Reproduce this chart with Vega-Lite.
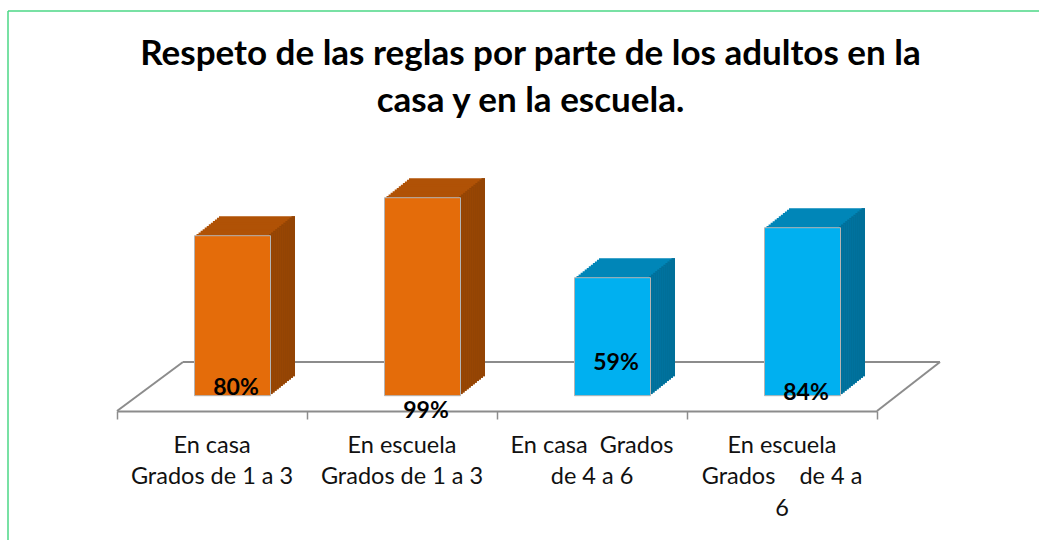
{
  "$schema": "https://vega.github.io/schema/vega-lite/v6.json",
  "width": 1031,
  "height": 529,
  "autosize": {"type": "none"},
  "padding": {"left": 8, "top": 11, "right": 0, "bottom": 0},
  "background": "white",
  "config": {
    "view": {"stroke": "#4CD886", "strokeWidth": 1.5, "strokeDash": [1031, 1560, 529, 0]}
  },
  "title": {
    "text": ["Respeto de las reglas por parte de los adultos en la", "casa y en la escuela."],
    "font": "Lato", "fontSize": 35, "fontWeight": "bold", "color": "#000000",
    "lineHeight": 47, "anchor": "middle", "frame": "group", "orient": "top",
    "baseline": "top", "offset": -108, "dx": 7
  },
  "data": {"values": [
    {"categoria": "En casa|Grados de 1 a 3", "grupo": "1 a 3", "valor": 0.80},
    {"categoria": "En escuela|Grados de 1 a 3", "grupo": "1 a 3", "valor": 0.99},
    {"categoria": "En casa\u00a0 Grados|de 4 a 6", "grupo": "4 a 6", "valor": 0.59},
    {"categoria": "En escuela|Grados\u00a0 \u00a0 de 4 a|6", "grupo": "4 a 6", "valor": 0.84}
  ]},
  "resolve": {"scale": {"x": "independent", "y": "independent"}, "axis": {"x": "independent", "y": "independent"}},
  "layer": [
    {"data": {"values": [{}]},
     "mark": {"type": "rule", "color": "#8c8c8c", "strokeWidth": 2, "xOffset": 66, "x2Offset": 63, "yOffset": -33.7},
     "encoding": {
       "x": {"datum": 0, "type": "quantitative", "scale": {"type": "linear", "domain": [0, 4], "range": [109, 869], "nice": false, "zero": false},
             "axis": {"orient": "bottom", "offset": -129, "values": [0, 1, 2, 3, 4], "labels": false, "grid": false, "title": null,
                      "ticks": true, "tickSize": 8, "tickColor": "#8c8c8c", "tickWidth": 1.5, "domain": true, "domainColor": "#8c8c8c", "domainWidth": 2}},
       "x2": {"datum": 4},
       "y": {"datum": 0, "type": "quantitative", "scale": {"domain": [0, 1], "range": [384.7, 184.7]}, "axis": null}
     }},
    {"data": {"values": [{}]},
     "mark": {"type": "rule", "color": "#8c8c8c", "strokeWidth": 2, "xOffset": 0, "x2Offset": 66, "yOffset": 15.3, "y2Offset": -33.7},
     "encoding": {
       "x": {"datum": 0, "type": "quantitative", "scale": {"type": "linear", "domain": [0, 4], "range": [109, 869], "nice": false, "zero": false}, "axis": null},
       "x2": {"datum": 0},
       "y": {"datum": 0, "type": "quantitative", "scale": {"domain": [0, 1], "range": [384.7, 184.7]}, "axis": null},
       "y2": {"datum": 0}
     }},
    {"data": {"values": [{}]},
     "mark": {"type": "rule", "color": "#8c8c8c", "strokeWidth": 2, "xOffset": 0, "x2Offset": 63, "yOffset": 15.3, "y2Offset": -33.7},
     "encoding": {
       "x": {"datum": 4, "type": "quantitative", "scale": {"type": "linear", "domain": [0, 4], "range": [109, 869], "nice": false, "zero": false}, "axis": null},
       "x2": {"datum": 4},
       "y": {"datum": 0, "type": "quantitative", "scale": {"domain": [0, 1], "range": [384.7, 184.7]}, "axis": null},
       "y2": {"datum": 0}
     }},

    {"mark": {"type": "bar", "width": 76, "xOffset": 45, "x2Offset": 45, "yOffset": -19.5, "y2Offset": -19.5},
     "encoding": {"x": {"field": "categoria", "type": "nominal", "sort": null, "scale": {"type": "band", "domain": ["En casa|Grados de 1 a 3", "En escuela|Grados de 1 a 3", "En casa\u00a0 Grados|de 4 a 6", "En escuela|Grados\u00a0 \u00a0 de 4 a|6"], "range": [109, 869], "paddingInner": 0, "paddingOuter": 0}, "axis": null},
                  "y": {"field": "valor", "type": "quantitative", "scale": {"domain": [0, 1], "range": [384.7, 184.7]}, "axis": null},
                  "color": {"condition": {"test": "datum.grupo === '1 a 3'", "value": "#B05206"}, "value": "#0086B8"}}},
    {"mark": {"type": "bar", "width": 3.5, "xOffset": 81.25, "x2Offset": 81.25, "yOffset": -19.5, "y2Offset": -19.5},
     "encoding": {"x": {"field": "categoria", "type": "nominal", "sort": null, "scale": {"type": "band", "domain": ["En casa|Grados de 1 a 3", "En escuela|Grados de 1 a 3", "En casa\u00a0 Grados|de 4 a 6", "En escuela|Grados\u00a0 \u00a0 de 4 a|6"], "range": [109, 869], "paddingInner": 0, "paddingOuter": 0}, "axis": null},
                  "y": {"field": "valor", "type": "quantitative", "scale": {"domain": [0, 1], "range": [384.7, 184.7]}, "axis": null},
                  "color": {"condition": {"test": "datum.grupo === '1 a 3'", "value": "#934404"}, "value": "#006F99"}}},

    {"mark": {"type": "bar", "width": 76, "xOffset": 42.96, "x2Offset": 42.96, "yOffset": -17.88, "y2Offset": -17.88},
     "encoding": {"x": {"field": "categoria", "type": "nominal", "sort": null, "scale": {"type": "band", "domain": ["En casa|Grados de 1 a 3", "En escuela|Grados de 1 a 3", "En casa\u00a0 Grados|de 4 a 6", "En escuela|Grados\u00a0 \u00a0 de 4 a|6"], "range": [109, 869], "paddingInner": 0, "paddingOuter": 0}, "axis": null},
                  "y": {"field": "valor", "type": "quantitative", "scale": {"domain": [0, 1], "range": [384.7, 184.7]}, "axis": null},
                  "color": {"condition": {"test": "datum.grupo === '1 a 3'", "value": "#B05206"}, "value": "#0086B8"}}},
    {"mark": {"type": "bar", "width": 3.5, "xOffset": 79.21, "x2Offset": 79.21, "yOffset": -17.88, "y2Offset": -17.88},
     "encoding": {"x": {"field": "categoria", "type": "nominal", "sort": null, "scale": {"type": "band", "domain": ["En casa|Grados de 1 a 3", "En escuela|Grados de 1 a 3", "En casa\u00a0 Grados|de 4 a 6", "En escuela|Grados\u00a0 \u00a0 de 4 a|6"], "range": [109, 869], "paddingInner": 0, "paddingOuter": 0}, "axis": null},
                  "y": {"field": "valor", "type": "quantitative", "scale": {"domain": [0, 1], "range": [384.7, 184.7]}, "axis": null},
                  "color": {"condition": {"test": "datum.grupo === '1 a 3'", "value": "#934404"}, "value": "#006F99"}}},

    {"mark": {"type": "bar", "width": 76, "xOffset": 40.92, "x2Offset": 40.92, "yOffset": -16.25, "y2Offset": -16.25},
     "encoding": {"x": {"field": "categoria", "type": "nominal", "sort": null, "scale": {"type": "band", "domain": ["En casa|Grados de 1 a 3", "En escuela|Grados de 1 a 3", "En casa\u00a0 Grados|de 4 a 6", "En escuela|Grados\u00a0 \u00a0 de 4 a|6"], "range": [109, 869], "paddingInner": 0, "paddingOuter": 0}, "axis": null},
                  "y": {"field": "valor", "type": "quantitative", "scale": {"domain": [0, 1], "range": [384.7, 184.7]}, "axis": null},
                  "color": {"condition": {"test": "datum.grupo === '1 a 3'", "value": "#B05206"}, "value": "#0086B8"}}},
    {"mark": {"type": "bar", "width": 3.5, "xOffset": 77.17, "x2Offset": 77.17, "yOffset": -16.25, "y2Offset": -16.25},
     "encoding": {"x": {"field": "categoria", "type": "nominal", "sort": null, "scale": {"type": "band", "domain": ["En casa|Grados de 1 a 3", "En escuela|Grados de 1 a 3", "En casa\u00a0 Grados|de 4 a 6", "En escuela|Grados\u00a0 \u00a0 de 4 a|6"], "range": [109, 869], "paddingInner": 0, "paddingOuter": 0}, "axis": null},
                  "y": {"field": "valor", "type": "quantitative", "scale": {"domain": [0, 1], "range": [384.7, 184.7]}, "axis": null},
                  "color": {"condition": {"test": "datum.grupo === '1 a 3'", "value": "#934404"}, "value": "#006F99"}}},

    {"mark": {"type": "bar", "width": 76, "xOffset": 38.88, "x2Offset": 38.88, "yOffset": -14.63, "y2Offset": -14.63},
     "encoding": {"x": {"field": "categoria", "type": "nominal", "sort": null, "scale": {"type": "band", "domain": ["En casa|Grados de 1 a 3", "En escuela|Grados de 1 a 3", "En casa\u00a0 Grados|de 4 a 6", "En escuela|Grados\u00a0 \u00a0 de 4 a|6"], "range": [109, 869], "paddingInner": 0, "paddingOuter": 0}, "axis": null},
                  "y": {"field": "valor", "type": "quantitative", "scale": {"domain": [0, 1], "range": [384.7, 184.7]}, "axis": null},
                  "color": {"condition": {"test": "datum.grupo === '1 a 3'", "value": "#B05206"}, "value": "#0086B8"}}},
    {"mark": {"type": "bar", "width": 3.5, "xOffset": 75.13, "x2Offset": 75.13, "yOffset": -14.63, "y2Offset": -14.63},
     "encoding": {"x": {"field": "categoria", "type": "nominal", "sort": null, "scale": {"type": "band", "domain": ["En casa|Grados de 1 a 3", "En escuela|Grados de 1 a 3", "En casa\u00a0 Grados|de 4 a 6", "En escuela|Grados\u00a0 \u00a0 de 4 a|6"], "range": [109, 869], "paddingInner": 0, "paddingOuter": 0}, "axis": null},
                  "y": {"field": "valor", "type": "quantitative", "scale": {"domain": [0, 1], "range": [384.7, 184.7]}, "axis": null},
                  "color": {"condition": {"test": "datum.grupo === '1 a 3'", "value": "#934404"}, "value": "#006F99"}}},

    {"mark": {"type": "bar", "width": 76, "xOffset": 36.83, "x2Offset": 36.83, "yOffset": -13, "y2Offset": -13},
     "encoding": {"x": {"field": "categoria", "type": "nominal", "sort": null, "scale": {"type": "band", "domain": ["En casa|Grados de 1 a 3", "En escuela|Grados de 1 a 3", "En casa\u00a0 Grados|de 4 a 6", "En escuela|Grados\u00a0 \u00a0 de 4 a|6"], "range": [109, 869], "paddingInner": 0, "paddingOuter": 0}, "axis": null},
                  "y": {"field": "valor", "type": "quantitative", "scale": {"domain": [0, 1], "range": [384.7, 184.7]}, "axis": null},
                  "color": {"condition": {"test": "datum.grupo === '1 a 3'", "value": "#B05206"}, "value": "#0086B8"}}},
    {"mark": {"type": "bar", "width": 3.5, "xOffset": 73.08, "x2Offset": 73.08, "yOffset": -13, "y2Offset": -13},
     "encoding": {"x": {"field": "categoria", "type": "nominal", "sort": null, "scale": {"type": "band", "domain": ["En casa|Grados de 1 a 3", "En escuela|Grados de 1 a 3", "En casa\u00a0 Grados|de 4 a 6", "En escuela|Grados\u00a0 \u00a0 de 4 a|6"], "range": [109, 869], "paddingInner": 0, "paddingOuter": 0}, "axis": null},
                  "y": {"field": "valor", "type": "quantitative", "scale": {"domain": [0, 1], "range": [384.7, 184.7]}, "axis": null},
                  "color": {"condition": {"test": "datum.grupo === '1 a 3'", "value": "#934404"}, "value": "#006F99"}}},

    {"mark": {"type": "bar", "width": 76, "xOffset": 34.79, "x2Offset": 34.79, "yOffset": -11.38, "y2Offset": -11.38},
     "encoding": {"x": {"field": "categoria", "type": "nominal", "sort": null, "scale": {"type": "band", "domain": ["En casa|Grados de 1 a 3", "En escuela|Grados de 1 a 3", "En casa\u00a0 Grados|de 4 a 6", "En escuela|Grados\u00a0 \u00a0 de 4 a|6"], "range": [109, 869], "paddingInner": 0, "paddingOuter": 0}, "axis": null},
                  "y": {"field": "valor", "type": "quantitative", "scale": {"domain": [0, 1], "range": [384.7, 184.7]}, "axis": null},
                  "color": {"condition": {"test": "datum.grupo === '1 a 3'", "value": "#B05206"}, "value": "#0086B8"}}},
    {"mark": {"type": "bar", "width": 3.5, "xOffset": 71.04, "x2Offset": 71.04, "yOffset": -11.38, "y2Offset": -11.38},
     "encoding": {"x": {"field": "categoria", "type": "nominal", "sort": null, "scale": {"type": "band", "domain": ["En casa|Grados de 1 a 3", "En escuela|Grados de 1 a 3", "En casa\u00a0 Grados|de 4 a 6", "En escuela|Grados\u00a0 \u00a0 de 4 a|6"], "range": [109, 869], "paddingInner": 0, "paddingOuter": 0}, "axis": null},
                  "y": {"field": "valor", "type": "quantitative", "scale": {"domain": [0, 1], "range": [384.7, 184.7]}, "axis": null},
                  "color": {"condition": {"test": "datum.grupo === '1 a 3'", "value": "#934404"}, "value": "#006F99"}}},

    {"mark": {"type": "bar", "width": 76, "xOffset": 32.75, "x2Offset": 32.75, "yOffset": -9.75, "y2Offset": -9.75},
     "encoding": {"x": {"field": "categoria", "type": "nominal", "sort": null, "scale": {"type": "band", "domain": ["En casa|Grados de 1 a 3", "En escuela|Grados de 1 a 3", "En casa\u00a0 Grados|de 4 a 6", "En escuela|Grados\u00a0 \u00a0 de 4 a|6"], "range": [109, 869], "paddingInner": 0, "paddingOuter": 0}, "axis": null},
                  "y": {"field": "valor", "type": "quantitative", "scale": {"domain": [0, 1], "range": [384.7, 184.7]}, "axis": null},
                  "color": {"condition": {"test": "datum.grupo === '1 a 3'", "value": "#B05206"}, "value": "#0086B8"}}},
    {"mark": {"type": "bar", "width": 3.5, "xOffset": 69, "x2Offset": 69, "yOffset": -9.75, "y2Offset": -9.75},
     "encoding": {"x": {"field": "categoria", "type": "nominal", "sort": null, "scale": {"type": "band", "domain": ["En casa|Grados de 1 a 3", "En escuela|Grados de 1 a 3", "En casa\u00a0 Grados|de 4 a 6", "En escuela|Grados\u00a0 \u00a0 de 4 a|6"], "range": [109, 869], "paddingInner": 0, "paddingOuter": 0}, "axis": null},
                  "y": {"field": "valor", "type": "quantitative", "scale": {"domain": [0, 1], "range": [384.7, 184.7]}, "axis": null},
                  "color": {"condition": {"test": "datum.grupo === '1 a 3'", "value": "#934404"}, "value": "#006F99"}}},

    {"mark": {"type": "bar", "width": 76, "xOffset": 30.71, "x2Offset": 30.71, "yOffset": -8.13, "y2Offset": -8.13},
     "encoding": {"x": {"field": "categoria", "type": "nominal", "sort": null, "scale": {"type": "band", "domain": ["En casa|Grados de 1 a 3", "En escuela|Grados de 1 a 3", "En casa\u00a0 Grados|de 4 a 6", "En escuela|Grados\u00a0 \u00a0 de 4 a|6"], "range": [109, 869], "paddingInner": 0, "paddingOuter": 0}, "axis": null},
                  "y": {"field": "valor", "type": "quantitative", "scale": {"domain": [0, 1], "range": [384.7, 184.7]}, "axis": null},
                  "color": {"condition": {"test": "datum.grupo === '1 a 3'", "value": "#B05206"}, "value": "#0086B8"}}},
    {"mark": {"type": "bar", "width": 3.5, "xOffset": 66.96, "x2Offset": 66.96, "yOffset": -8.13, "y2Offset": -8.13},
     "encoding": {"x": {"field": "categoria", "type": "nominal", "sort": null, "scale": {"type": "band", "domain": ["En casa|Grados de 1 a 3", "En escuela|Grados de 1 a 3", "En casa\u00a0 Grados|de 4 a 6", "En escuela|Grados\u00a0 \u00a0 de 4 a|6"], "range": [109, 869], "paddingInner": 0, "paddingOuter": 0}, "axis": null},
                  "y": {"field": "valor", "type": "quantitative", "scale": {"domain": [0, 1], "range": [384.7, 184.7]}, "axis": null},
                  "color": {"condition": {"test": "datum.grupo === '1 a 3'", "value": "#934404"}, "value": "#006F99"}}},

    {"mark": {"type": "bar", "width": 76, "xOffset": 28.67, "x2Offset": 28.67, "yOffset": -6.5, "y2Offset": -6.5},
     "encoding": {"x": {"field": "categoria", "type": "nominal", "sort": null, "scale": {"type": "band", "domain": ["En casa|Grados de 1 a 3", "En escuela|Grados de 1 a 3", "En casa\u00a0 Grados|de 4 a 6", "En escuela|Grados\u00a0 \u00a0 de 4 a|6"], "range": [109, 869], "paddingInner": 0, "paddingOuter": 0}, "axis": null},
                  "y": {"field": "valor", "type": "quantitative", "scale": {"domain": [0, 1], "range": [384.7, 184.7]}, "axis": null},
                  "color": {"condition": {"test": "datum.grupo === '1 a 3'", "value": "#B05206"}, "value": "#0086B8"}}},
    {"mark": {"type": "bar", "width": 3.5, "xOffset": 64.92, "x2Offset": 64.92, "yOffset": -6.5, "y2Offset": -6.5},
     "encoding": {"x": {"field": "categoria", "type": "nominal", "sort": null, "scale": {"type": "band", "domain": ["En casa|Grados de 1 a 3", "En escuela|Grados de 1 a 3", "En casa\u00a0 Grados|de 4 a 6", "En escuela|Grados\u00a0 \u00a0 de 4 a|6"], "range": [109, 869], "paddingInner": 0, "paddingOuter": 0}, "axis": null},
                  "y": {"field": "valor", "type": "quantitative", "scale": {"domain": [0, 1], "range": [384.7, 184.7]}, "axis": null},
                  "color": {"condition": {"test": "datum.grupo === '1 a 3'", "value": "#934404"}, "value": "#006F99"}}},

    {"mark": {"type": "bar", "width": 76, "xOffset": 26.63, "x2Offset": 26.63, "yOffset": -4.88, "y2Offset": -4.88},
     "encoding": {"x": {"field": "categoria", "type": "nominal", "sort": null, "scale": {"type": "band", "domain": ["En casa|Grados de 1 a 3", "En escuela|Grados de 1 a 3", "En casa\u00a0 Grados|de 4 a 6", "En escuela|Grados\u00a0 \u00a0 de 4 a|6"], "range": [109, 869], "paddingInner": 0, "paddingOuter": 0}, "axis": null},
                  "y": {"field": "valor", "type": "quantitative", "scale": {"domain": [0, 1], "range": [384.7, 184.7]}, "axis": null},
                  "color": {"condition": {"test": "datum.grupo === '1 a 3'", "value": "#B05206"}, "value": "#0086B8"}}},
    {"mark": {"type": "bar", "width": 3.5, "xOffset": 62.88, "x2Offset": 62.88, "yOffset": -4.88, "y2Offset": -4.88},
     "encoding": {"x": {"field": "categoria", "type": "nominal", "sort": null, "scale": {"type": "band", "domain": ["En casa|Grados de 1 a 3", "En escuela|Grados de 1 a 3", "En casa\u00a0 Grados|de 4 a 6", "En escuela|Grados\u00a0 \u00a0 de 4 a|6"], "range": [109, 869], "paddingInner": 0, "paddingOuter": 0}, "axis": null},
                  "y": {"field": "valor", "type": "quantitative", "scale": {"domain": [0, 1], "range": [384.7, 184.7]}, "axis": null},
                  "color": {"condition": {"test": "datum.grupo === '1 a 3'", "value": "#934404"}, "value": "#006F99"}}},

    {"mark": {"type": "bar", "width": 76, "xOffset": 24.58, "x2Offset": 24.58, "yOffset": -3.25, "y2Offset": -3.25},
     "encoding": {"x": {"field": "categoria", "type": "nominal", "sort": null, "scale": {"type": "band", "domain": ["En casa|Grados de 1 a 3", "En escuela|Grados de 1 a 3", "En casa\u00a0 Grados|de 4 a 6", "En escuela|Grados\u00a0 \u00a0 de 4 a|6"], "range": [109, 869], "paddingInner": 0, "paddingOuter": 0}, "axis": null},
                  "y": {"field": "valor", "type": "quantitative", "scale": {"domain": [0, 1], "range": [384.7, 184.7]}, "axis": null},
                  "color": {"condition": {"test": "datum.grupo === '1 a 3'", "value": "#B05206"}, "value": "#0086B8"}}},
    {"mark": {"type": "bar", "width": 3.5, "xOffset": 60.83, "x2Offset": 60.83, "yOffset": -3.25, "y2Offset": -3.25},
     "encoding": {"x": {"field": "categoria", "type": "nominal", "sort": null, "scale": {"type": "band", "domain": ["En casa|Grados de 1 a 3", "En escuela|Grados de 1 a 3", "En casa\u00a0 Grados|de 4 a 6", "En escuela|Grados\u00a0 \u00a0 de 4 a|6"], "range": [109, 869], "paddingInner": 0, "paddingOuter": 0}, "axis": null},
                  "y": {"field": "valor", "type": "quantitative", "scale": {"domain": [0, 1], "range": [384.7, 184.7]}, "axis": null},
                  "color": {"condition": {"test": "datum.grupo === '1 a 3'", "value": "#934404"}, "value": "#006F99"}}},

    {"mark": {"type": "bar", "width": 76, "xOffset": 22.54, "x2Offset": 22.54, "yOffset": -1.63, "y2Offset": -1.63},
     "encoding": {"x": {"field": "categoria", "type": "nominal", "sort": null, "scale": {"type": "band", "domain": ["En casa|Grados de 1 a 3", "En escuela|Grados de 1 a 3", "En casa\u00a0 Grados|de 4 a 6", "En escuela|Grados\u00a0 \u00a0 de 4 a|6"], "range": [109, 869], "paddingInner": 0, "paddingOuter": 0}, "axis": null},
                  "y": {"field": "valor", "type": "quantitative", "scale": {"domain": [0, 1], "range": [384.7, 184.7]}, "axis": null},
                  "color": {"condition": {"test": "datum.grupo === '1 a 3'", "value": "#B05206"}, "value": "#0086B8"}}},
    {"mark": {"type": "bar", "width": 3.5, "xOffset": 58.79, "x2Offset": 58.79, "yOffset": -1.63, "y2Offset": -1.63},
     "encoding": {"x": {"field": "categoria", "type": "nominal", "sort": null, "scale": {"type": "band", "domain": ["En casa|Grados de 1 a 3", "En escuela|Grados de 1 a 3", "En casa\u00a0 Grados|de 4 a 6", "En escuela|Grados\u00a0 \u00a0 de 4 a|6"], "range": [109, 869], "paddingInner": 0, "paddingOuter": 0}, "axis": null},
                  "y": {"field": "valor", "type": "quantitative", "scale": {"domain": [0, 1], "range": [384.7, 184.7]}, "axis": null},
                  "color": {"condition": {"test": "datum.grupo === '1 a 3'", "value": "#934404"}, "value": "#006F99"}}},

    {"mark": {"type": "bar", "width": 76, "xOffset": 20.5, "x2Offset": 20.5, "stroke": "#b4b4b4", "strokeWidth": 1},
     "encoding": {"x": {"field": "categoria", "type": "nominal", "sort": null, "scale": {"type": "band", "domain": ["En casa|Grados de 1 a 3", "En escuela|Grados de 1 a 3", "En casa\u00a0 Grados|de 4 a 6", "En escuela|Grados\u00a0 \u00a0 de 4 a|6"], "range": [109, 869], "paddingInner": 0, "paddingOuter": 0},
                        "axis": {"orient": "bottom", "offset": -129, "domain": false, "ticks": false, "tickSize": 0, "grid": false, "title": null,
                                 "labelExpr": "split(datum.label, '|')", "labelFont": "Lato", "labelFontSize": 23.5, "labelColor": "#111111",
                                 "labelPadding": 22, "labelLineHeight": 31.5, "labelLimit": 0, "labelBaseline": "top", "labelAngle": 0, "labelAlign": "center"}},
                  "y": {"field": "valor", "type": "quantitative", "scale": {"domain": [0, 1], "range": [384.7, 184.7]}, "axis": null},
                  "color": {"condition": {"test": "datum.grupo === '1 a 3'", "value": "#E46C0A"}, "value": "#00B0F0"}}},

    {"mark": {"type": "text", "font": "Lato", "fontSize": 23, "fontWeight": "bold", "color": "#000000", "xOffset": 24, "baseline": "middle", "align": "center"},
     "encoding": {"x": {"field": "categoria", "type": "nominal", "sort": null, "scale": {"type": "band", "domain": ["En casa|Grados de 1 a 3", "En escuela|Grados de 1 a 3", "En casa\u00a0 Grados|de 4 a 6", "En escuela|Grados\u00a0 \u00a0 de 4 a|6"], "range": [109, 869], "paddingInner": 0, "paddingOuter": 0}, "axis": null},
                  "y": {"field": "valor", "type": "quantitative", "scale": {"domain": [0.59, 0.99], "range": [351.5, 400.2], "zero": false, "nice": false}, "axis": null},
                  "text": {"field": "valor", "type": "quantitative", "format": ".0%"}}}
  ]
}
